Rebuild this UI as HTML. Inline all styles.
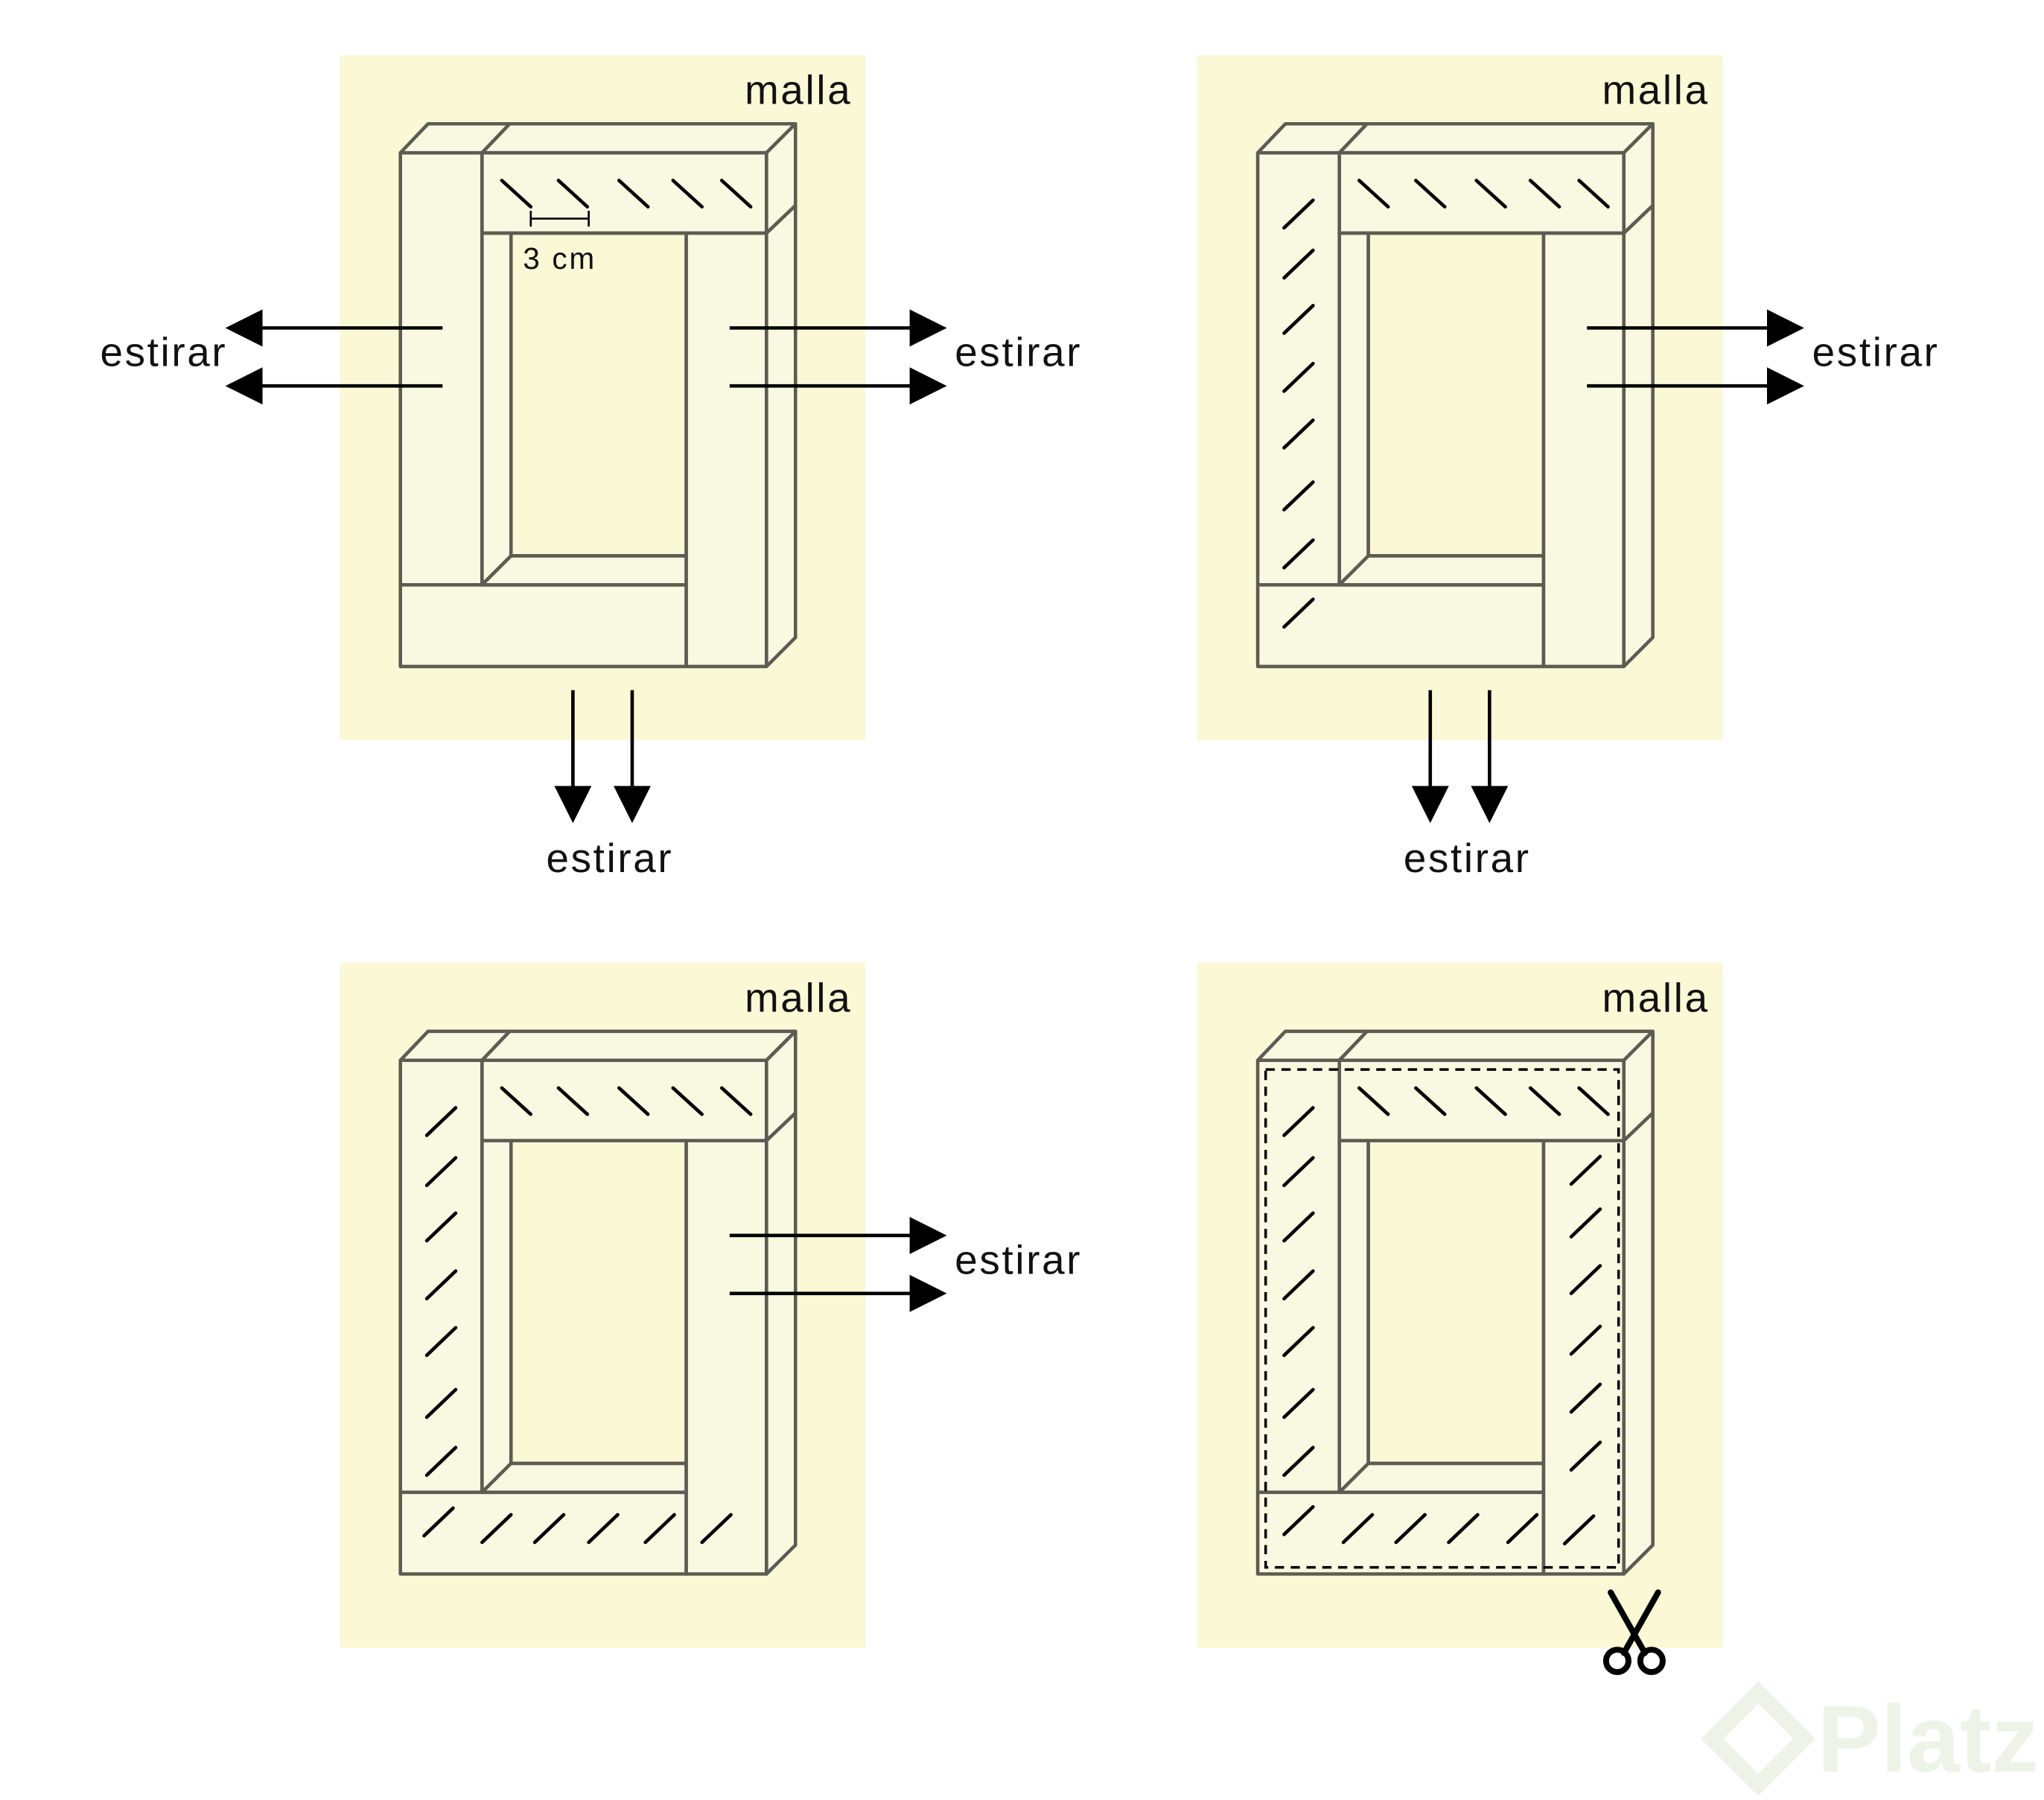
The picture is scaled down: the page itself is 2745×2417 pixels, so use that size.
<!DOCTYPE html>
<html><head><meta charset="utf-8"><style>
html,body{margin:0;padding:0;background:#fff;}
svg{display:block;}
text{font-family:"Liberation Sans",sans-serif;fill:#111;}
</style></head><body>
<svg width="2745" height="2417" viewBox="0 0 1552 1366.6" xmlns="http://www.w3.org/2000/svg">
<defs>
<g id="frame" stroke="#5c5c52" stroke-width="2.6" stroke-linejoin="round" fill="#f9f9e2">
  <rect x="258" y="42" width="399" height="520" fill="#fbf8d6" stroke="none"/>
  <rect x="304" y="116" width="62" height="328"/>
  <polygon points="304,116 325,94 387,94 366,116"/>
  <polygon points="366,116 387,94 604,94 582,116"/>
  <rect x="366" y="116" width="216" height="61"/>
  <polygon points="582,116 604,94 604,156 582,177"/>
  <rect x="521" y="177" width="61" height="329"/>
  <polygon points="582,177 604,156 604,484 582,506"/>
  <rect x="304" y="444" width="217" height="62"/>
  <polygon points="366,177 388,177 388,422 366,444"/>
  <polygon points="366,444 388,422 521,422 521,444"/>
  <rect x="388" y="177" width="133" height="245" fill="#fbf8d6"/>
</g>
<line id="hb" x1="0" y1="0" x2="22" y2="20" stroke="#000" stroke-width="2.6" stroke-linecap="round"/>
<line id="hf" x1="0" y1="21" x2="22" y2="0" stroke="#000" stroke-width="2.6" stroke-linecap="round"/>
<g id="tophatch">
  <use href="#hb" x="381" y="137"/><use href="#hb" x="424" y="137"/><use href="#hb" x="470" y="137"/><use href="#hb" x="511" y="137"/><use href="#hb" x="548" y="137"/>
</g>
<g id="lefthatch">
  <use href="#hf" x="324" y="152"/><use href="#hf" x="324" y="190"/><use href="#hf" x="324" y="232"/><use href="#hf" x="324" y="276"/><use href="#hf" x="324" y="319"/><use href="#hf" x="324" y="366"/><use href="#hf" x="324" y="410"/>
</g>
<path id="arrR" d="M0,0 H140 M138,-12 L162,0 L138,12 Z" stroke="#000" stroke-width="2.6" fill="#000"/>
<path id="arrL" d="M0,0 H-140 M-138,-12 L-162,0 L-138,12 Z" stroke="#000" stroke-width="2.6" fill="#000"/>
<path id="arrD" d="M0,0 V76 M-12,74 L0,98 L12,74 Z" stroke="#000" stroke-width="2.6" fill="#000"/>
</defs>

<text x="1380" y="1345" font-size="72" style="fill:#eef3e8" font-weight="bold">Platzi</text>
<path d="M1300,1320 l35,-35 l35,35 l-35,35 z" fill="none" stroke="#eef3e8" stroke-width="12"/>

<!-- Panel 1 -->
<use href="#frame"/>
<use href="#tophatch"/>
<path d="M403,166 H447 M403,160 V172 M447,160 V172" stroke="#000" stroke-width="1.5"/>
<text x="397" y="204" font-size="23" letter-spacing="1.5">3 cm</text>
<text x="647" y="79" font-size="31" letter-spacing="1.5" text-anchor="end">malla</text>
<use href="#arrL" x="336" y="249"/><use href="#arrL" x="336" y="293"/>
<use href="#arrR" x="554" y="249"/><use href="#arrR" x="554" y="293"/>
<use href="#arrD" x="435" y="524"/><use href="#arrD" x="480" y="524"/>
<text x="76" y="278" font-size="31" letter-spacing="1.5">estirar</text>
<text x="725" y="278" font-size="31" letter-spacing="1.5">estirar</text>
<text x="463" y="662" font-size="31" letter-spacing="1.5" text-anchor="middle">estirar</text>

<!-- Panel 2 -->
<g transform="translate(651,0)">
<use href="#frame"/>
<use href="#tophatch"/>
<use href="#lefthatch"/>
<use href="#hf" x="324" y="455"/>
<text x="647" y="79" font-size="31" letter-spacing="1.5" text-anchor="end">malla</text>
<use href="#arrR" x="554" y="249"/><use href="#arrR" x="554" y="293"/>
<use href="#arrD" x="435" y="524"/><use href="#arrD" x="480" y="524"/>
<text x="725" y="278" font-size="31" letter-spacing="1.5">estirar</text>
<text x="463" y="662" font-size="31" letter-spacing="1.5" text-anchor="middle">estirar</text>
</g>

<!-- Panel 3 -->
<g transform="translate(0,689)">
<use href="#frame"/>
<use href="#tophatch"/>
<use href="#lefthatch"/>
<use href="#hf" x="322" y="456"/><use href="#hf" x="366" y="461"/><use href="#hf" x="406" y="461"/><use href="#hf" x="447" y="461"/><use href="#hf" x="490" y="461"/><use href="#hf" x="533" y="461"/>
<text x="647" y="79" font-size="31" letter-spacing="1.5" text-anchor="end">malla</text>
<use href="#arrR" x="554" y="249"/><use href="#arrR" x="554" y="293"/>
<text x="725" y="278" font-size="31" letter-spacing="1.5">estirar</text>
</g>

<!-- Panel 4 -->
<g transform="translate(651,689)">
<use href="#frame"/>
<use href="#tophatch"/>
<use href="#lefthatch"/>
<use href="#hf" x="324" y="455"/><use href="#hf" x="369" y="461"/><use href="#hf" x="409" y="461"/><use href="#hf" x="449" y="461"/><use href="#hf" x="494" y="461"/><use href="#hf" x="537" y="462"/>
<use href="#hf" x="542" y="189"/><use href="#hf" x="542" y="229"/><use href="#hf" x="542" y="272"/><use href="#hf" x="542" y="318"/><use href="#hf" x="542" y="362"/><use href="#hf" x="542" y="406"/>
<rect x="310" y="123" width="268" height="378" fill="none" stroke="#000" stroke-width="2" stroke-dasharray="7,5"/>
<text x="647" y="79" font-size="31" letter-spacing="1.5" text-anchor="end">malla</text>
<g stroke="#000" stroke-width="4.5" fill="none" stroke-linecap="round">
  <line x1="572" y1="520" x2="598" y2="566"/>
  <line x1="608" y1="520" x2="582" y2="566"/>
  <circle cx="577" cy="572" r="8.5"/>
  <circle cx="603" cy="572" r="8.5"/>
</g>
</g>
</svg>
</body></html>
